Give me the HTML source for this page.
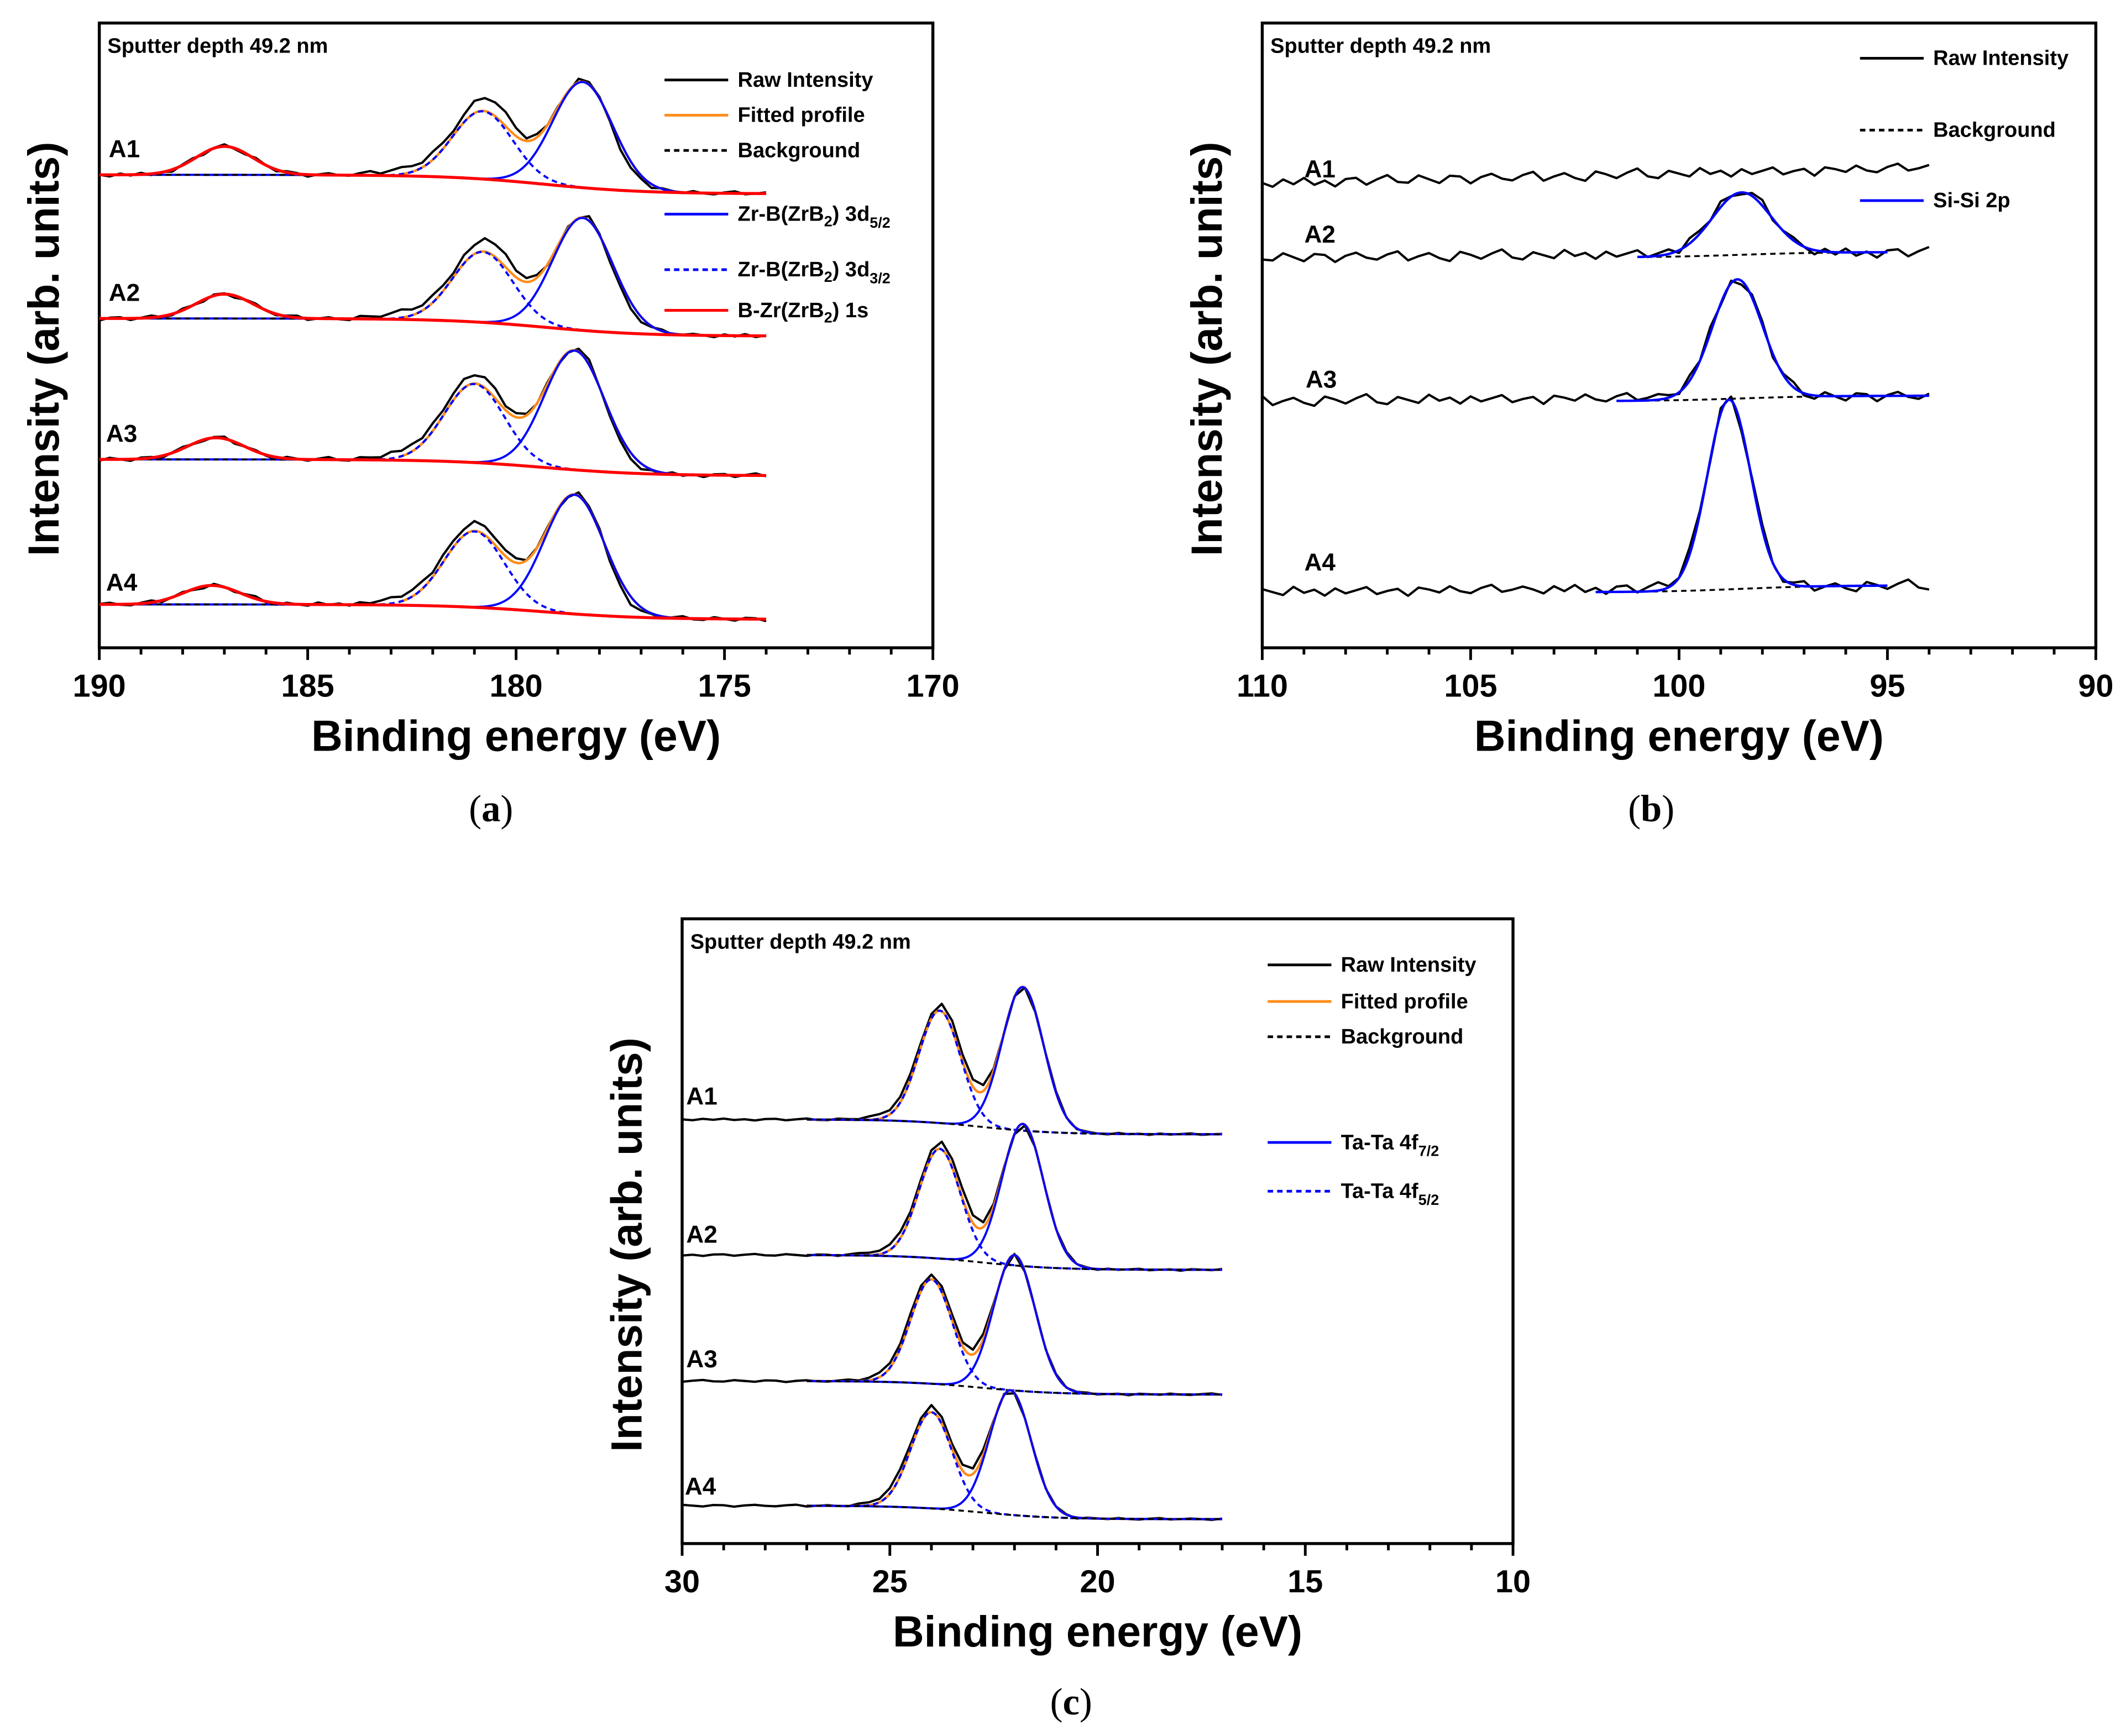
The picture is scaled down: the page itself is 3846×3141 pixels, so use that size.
<!DOCTYPE html>
<html><head><meta charset="utf-8">
<style>
html,body{margin:0;padding:0;background:#fff;}
svg{display:block;}
text{font-family:"Liberation Sans",Arial,sans-serif;font-weight:bold;fill:#000;}
.serif{font-family:"Liberation Serif",serif;font-weight:normal;}
</style></head>
<body>
<svg id="fig" width="3846" height="3141" viewBox="0 0 1568 1281" xmlns="http://www.w3.org/2000/svg"></svg>
<script>
// ---------- DATA ----------
// Panel (a) Zr 3d / B 1s
const aSpectra = ["A1","A2","A3","A4"];
const aBgLeft = [349,243,139,32];
const aBgRight = [335,230,127,21];
const aB1sCenter = [187.0,187.0,187.2,187.3];
const aB1sHeight = [21,18,16,14];
const aZr52Center = [178.4,178.4,178.6,178.6];
const aZr52Height = [78,83,88,88];
const aZr32Center = [180.8,180.8,181.0,181.0];
const aZr32Height = [50,52,58,56];
const aRawExtra = [11,10,7,6];
// Panel (b) Si 2p
const bSpectra = ["A1","A2","A3","A4"];
const bBgLeft = [343,288,182,41];
const bBgRight = [354,292,186,46];
const bPeakCenter = [98.5,98.5,98.6,98.8];
const bPeakHeight = [0,46,88,140];
const bFitStart = [0,101,101.5,102];
// Panel (c) Ta 4f
const cSpectra = ["A1","A2","A3","A4"];
const cBgLeft = [313,213,120,28];
const cBgRight = [302,202,110,18];
const c72Center = [21.8,21.8,22.0,22.1];
const c72Height = [106,105,100,92];
const c52Center = [23.8,23.8,24.0,24.0];
const c52Height = [83,81,77,71];
const cRawExtra = [5,6,3,4];
// hand-read noise deviations of raw traces (per 0.25 eV step)
const noise = [0,-4,3,-2,4,-3,1,-5,2,3,-4,1,5,-2,-3,4,0,-4,3,2,-5,1,4,-1,-3,2,5,-4,0,3,-2,-5,4,1,-3,2,6,-2,-4,3,0,-3,5,-1,2,-4,3,-2,1,4,-3,0,2,-5,3,1,-2,4,-1,-3,2,5,-2,0,3];

// ---------- HELPERS ----------
const svg = document.getElementById('fig');
const NS = 'http://www.w3.org/2000/svg';
function mk(tag, attrs, parent){const e=document.createElementNS(NS,tag);for(const k in attrs)e.setAttribute(k,attrs[k]);(parent||svg).appendChild(e);return e;}
function gauss(x,c,h,s){return h*Math.exp(-0.5*((x-c)/s)**2);}
function sig(z){return 1/(1+Math.exp(-z));}

function makePanel(P){
  const g = mk('g',{});
  
  
  const xS = v => P.x0 + (P.dmax - v)/(P.dmax - P.dmin)*(P.x1 - P.x0);
  const yS = v => P.y1 - v;
  P.xS = xS; P.yS = yS;
  for(let v=P.dmin; v<=P.dmax; v+=1){
    const major = ((v - P.dmin) % 5 === 0);
    const t = mk('line',{x1:xS(v),x2:xS(v),y1:P.y1,y2:P.y1+(major?9:5),stroke:'#000','stroke-width':2},g);
    
    
    if(major){
      const tl = mk('text',{x:xS(v),y:P.y1+36,'text-anchor':'middle','font-size':23.5},g);
      tl.textContent = v;
      
      
    }
  }
  const fr = mk('rect',{x:P.x0,y:P.y0,width:P.x1-P.x0,height:P.y1-P.y0,fill:'none',stroke:'#000','stroke-width':2.2},g);
  
  
  const xt = mk('text',{x:(P.x0+P.x1)/2,y:P.y1+76,'text-anchor':'middle','font-size':32},g);
  xt.textContent = 'Binding energy (eV)';
  
  
  const yt = mk('text',{transform:`translate(${P.x0-30},${(P.y0+P.y1)/2+10}) rotate(-90)`,'text-anchor':'middle','font-size':32},g);
  yt.textContent = 'Intensity (arb. units)';
  
  
  const sd = mk('text',{x:P.x0+6,y:P.y0+22,'font-size':15.5},g);
  sd.textContent = 'Sputter depth 49.2 nm';
  
  
  const cap = mk('text',{x:P.cap[0],y:P.cap[1],'text-anchor':'middle','font-size':28,'class':'serif'},g);
  cap.innerHTML = '(<tspan font-weight="bold" style="font-weight:bold">'+P.letter+'</tspan>)';
  
  
  return g;
}
function curve(g, P, from, to, fn, stroke, dash, name, sw){
  let d=''; const step=0.05;
  const lo=Math.min(from,to), hi=Math.max(from,to);
  for(let x=hi; x>=lo-1e-9; x-=step){ d += (d?'L':'M')+P.xS(x).toFixed(2)+','+P.yS(fn(x)).toFixed(2); }
  const p = mk('path',{d,fill:'none',stroke,'stroke-width':sw||1.6,'stroke-dasharray':dash||'none','stroke-linejoin':'round'},g);
  
  
}
function rawCurve(g,P,from,to,fn,amp,shift,name){
  let d=''; let i=0;
  for(let x=from; x>=to-1e-9; x-=0.25, i++){
    const n = noise[(i+shift)%noise.length]*amp;
    d += (d?'L':'M')+P.xS(x).toFixed(2)+','+P.yS(fn(x)+n).toFixed(2);
  }
  const p = mk('path',{d,fill:'none',stroke:'#000','stroke-width':1.7,'stroke-linejoin':'round'},g);
  
  
}
function label(g,x,y,txt,name,size){
  const t=mk('text',{x,y,'font-size':size||18},g);
  t.textContent=txt;
  
  
  return t;
}
function legend(g, items){
  items.forEach(it=>{
    const l = mk('line',{x1:it.x,x2:it.x+47,y1:it.y,y2:it.y,stroke:it.c,'stroke-width':2,'stroke-dasharray':it.dash||'none'},g);
    
    
    const t = mk('text',{x:it.x+54,y:it.y+5,'font-size':15.5},g);
    t.innerHTML = it.t;
    
    
  });
}

// ---------- PANEL A ----------
const PA = {name:'panel-a',x0:73,x1:688,y0:17,y1:478,dmin:170,dmax:190,cap:[362,606],letter:'a'};
const ga = makePanel(PA);
aSpectra.forEach((s,i)=>{
  const bg = x => aBgRight[i] + (aBgLeft[i]-aBgRight[i])*sig((x-179.3)/1.2);
  const p52 = x => gauss(x,aZr52Center[i],aZr52Height[i],0.72);
  const p32 = x => gauss(x,aZr32Center[i],aZr32Height[i],0.72);
  const pB = x => gauss(x,aB1sCenter[i],aB1sHeight[i],0.68);
  const fit = x => bg(x)+p52(x)+p32(x)+pB(x);
  const raw = x => fit(x)+gauss(x,aZr32Center[i]-0.3,aRawExtra[i],0.45)+gauss(x,182.3,5,0.8)+gauss(x,178.2,3,0.3)-gauss(x,177.4,5,0.4);
  rawCurve(ga,PA,190,174,raw,0.3,i*7,'raw-intensity-'+s);
  curve(ga,PA,182.8,174,fit,'#ff8c1a',null,'fitted-profile-'+s,1.8);
  curve(ga,PA,190,174,x=>bg(x)+p52(x),'#0000ff',null,'zr-b-3d52-'+s);
  curve(ga,PA,183.5,174,x=>bg(x)+p32(x),'#0000ff','4,3','zr-b-3d32-'+s);
  curve(ga,PA,190,174,bg,'#000','4,3','background-'+s,1.4);
  curve(ga,PA,190,174,x=>bg(x)+pB(x),'#ff0000',null,'b-zr-1s-'+s,2.2);
});
[[80,116],[80,222],[78,326],[78,436]].forEach((p,i)=>label(ga,p[0],p[1],aSpectra[i],'spectrum-label-'+aSpectra[i]));
legend(ga,[
 {x:490,y:59,c:'#000',t:'Raw Intensity'},
 {x:490,y:85,c:'#ff8c1a',t:'Fitted profile'},
 {x:490,y:111,c:'#000',dash:'4,3',t:'Background'},
 {x:490,y:158,c:'#0000ff',t:'Zr-B(ZrB<tspan font-size="11" dy="4">2</tspan><tspan dy="-4">) 3d</tspan><tspan font-size="11" dy="5">5/2</tspan>'},
 {x:490,y:199,c:'#0000ff',dash:'4,3',t:'Zr-B(ZrB<tspan font-size="11" dy="4">2</tspan><tspan dy="-4">) 3d</tspan><tspan font-size="11" dy="5">3/2</tspan>'},
 {x:490,y:229,c:'#ff0000',t:'B-Zr(ZrB<tspan font-size="11" dy="4">2</tspan><tspan dy="-4">) 1s</tspan>'}
]);

// ---------- PANEL B ----------
const PB = {name:'panel-b',x0:931,x1:1546,y0:17,y1:478,dmin:90,dmax:110,cap:[1218,606],letter:'b'};
const gb = makePanel(PB);
bSpectra.forEach((s,i)=>{
  const bg = x => bBgLeft[i] + (bBgRight[i]-bBgLeft[i])*(110-x)/16;
  const pk = x => gauss(x,bPeakCenter[i],bPeakHeight[i],i===1?0.7:(i===2?0.6:0.52));
  rawCurve(gb,PB,110,94,x=>bg(x)+pk(x),0.75,i*13,'raw-intensity-'+s);
  if(bPeakHeight[i]>0){
    const fbg = x => bBgRight[i]+(bBgLeft[i]-bBgRight[i])*sig((x-98.5)/1.0);
    curve(gb,PB,bFitStart[i],95,fbg,'#000','4,3','background-'+s,1.4);
    curve(gb,PB,bFitStart[i],i===2?94:95,x=>fbg(x)+pk(x),'#0000ff',null,'si-si-2p-'+s,1.8);
  }
});
[[962,131],[962,179],[963,286],[962,421]].forEach((p,i)=>label(gb,p[0],p[1],bSpectra[i],'spectrum-label-'+bSpectra[i]));
legend(gb,[
 {x:1372,y:43,c:'#000',t:'Raw Intensity'},
 {x:1372,y:96,c:'#000',dash:'4,3',t:'Background'},
 {x:1372,y:148,c:'#0000ff',t:'Si-Si 2p'}
]);

// ---------- PANEL C ----------
const PC = {name:'panel-c',x0:503,x1:1116,y0:678,y1:1139,dmin:10,dmax:30,cap:[790,1265],letter:'c'};
const gc = makePanel(PC);
cSpectra.forEach((s,i)=>{
  const bg = x => cBgRight[i] + (cBgLeft[i]-cBgRight[i])*sig((x-22.8)/0.9);
  const p72 = x => gauss(x,c72Center[i],c72Height[i],0.5);
  const p52 = x => gauss(x,c52Center[i],c52Height[i],0.5);
  const fit = x => bg(x)+p72(x)+p52(x);
  const raw = x => fit(x)+gauss(x,c52Center[i]-0.25,cRawExtra[i],0.35)+gauss(x,24.8,4,0.6)+gauss(x,22.9,4,0.3);
  rawCurve(gc,PC,30,17,raw,0.15,i*5,'raw-intensity-'+s);
  curve(gc,PC,27,17,fit,'#ff8c1a',null,'fitted-profile-'+s,1.8);
  curve(gc,PC,27,17,x=>bg(x)+p72(x),'#0000ff',null,'ta-4f72-'+s);
  curve(gc,PC,27,17,x=>bg(x)+p52(x),'#0000ff','4,3','ta-4f52-'+s);
  curve(gc,PC,27,17,bg,'#000','4,3','background-'+s,1.4);
});
[[506,815],[506,917],[506,1009],[505,1103]].forEach((p,i)=>label(gc,p[0],p[1],cSpectra[i],'spectrum-label-'+cSpectra[i]));
legend(gc,[
 {x:935,y:712,c:'#000',t:'Raw Intensity'},
 {x:935,y:739,c:'#ff8c1a',t:'Fitted profile'},
 {x:935,y:765,c:'#000',dash:'4,3',t:'Background'},
 {x:935,y:843,c:'#0000ff',t:'Ta-Ta 4f<tspan font-size="11" dy="5">7/2</tspan>'},
 {x:935,y:879,c:'#0000ff',dash:'4,3',t:'Ta-Ta 4f<tspan font-size="11" dy="5">5/2</tspan>'}
]);
</script>
</body></html>
